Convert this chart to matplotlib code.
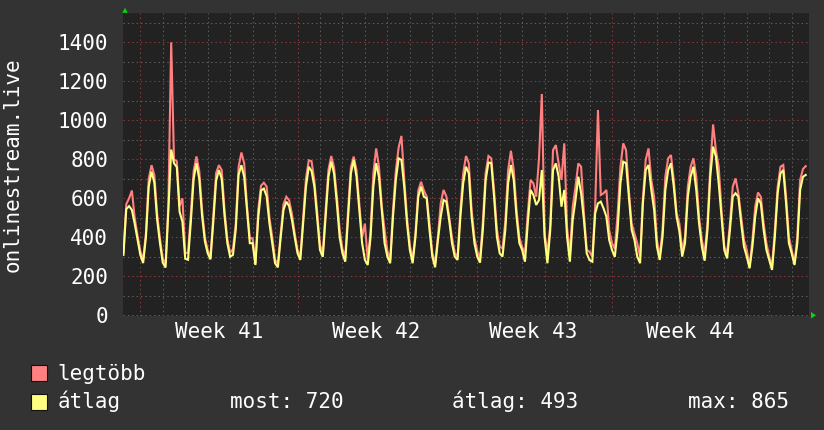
import matplotlib
matplotlib.use('Agg')
import matplotlib.pyplot as plt
from matplotlib.patches import Polygon, Rectangle
from matplotlib.transforms import IdentityTransform
import numpy as np

# ---------------- data (3-hour samples, days relative to Monday of week 41) ----------------
start_day = -0.75
step_days = 0.125

legtobb = [
    320, 570, 600, 640, 500, 410,
    330, 285, 420, 700, 770, 720, 520, 395,
    290, 265, 570, 1400, 800, 790, 560, 600,
    320, 320, 520, 740, 815, 740, 540, 400,
    335, 300, 510, 730, 770, 745, 540, 390,
    320, 340, 470, 760, 835, 780, 560, 395,
    395, 265, 540, 665, 680, 660, 500, 400,
    285, 265, 420, 570, 608, 590, 520, 420,
    335, 301, 500, 700, 795, 790, 690, 530,
    360, 320, 540, 745, 817, 760, 610, 440,
    340, 300, 540, 760, 814, 745, 570, 400,
    470, 284, 430, 728, 856, 762, 560, 440,
    330, 285, 540, 740, 860, 920, 700, 500,
    360, 285, 420, 640, 685, 640, 610, 470,
    320, 267, 405, 575, 643, 610, 505, 400,
    320, 300, 540, 728, 817, 780, 540, 400,
    330, 290, 480, 730, 817, 805, 640, 440,
    350, 344, 480, 745, 844, 745, 540, 400,
    350, 320, 523, 694, 677, 608, 805, 1135,
    420, 318, 460, 848, 873, 779, 694, 882,
    450, 310, 557, 660, 779, 762, 523, 335,
    326, 300, 557, 1053, 617, 626, 643, 437,
    370, 340, 520, 762, 882, 847, 640, 470,
    420, 369, 300, 600, 797, 856, 694, 608,
    386, 301, 440, 711, 805, 822, 694, 523,
    470, 335, 400, 660, 762, 805, 711, 506,
    386, 318, 472, 762, 979, 848, 762, 540,
    352, 318, 472, 660, 702, 626, 506, 386,
    335, 250, 386, 557, 630, 608, 472, 369,
    301, 250, 438, 660, 762, 771, 608, 403,
    335, 267, 403, 694, 750, 765,
]

atlag = [
    310, 545, 560, 540, 470, 390,
    310, 268, 400, 660, 737, 680, 490, 370,
    270, 245, 540, 850, 780, 760, 530, 480,
    290, 285, 480, 700, 780, 700, 510, 380,
    318, 287, 480, 690, 745, 700, 510, 370,
    300, 310, 440, 720, 770, 710, 540, 370,
    370, 258, 500, 640, 650, 610, 470, 370,
    267, 246, 400, 540, 583, 560, 490, 400,
    318, 284, 470, 660, 762, 740, 660, 500,
    335, 300, 505, 710, 788, 728, 575, 400,
    318, 275, 500, 728, 797, 711, 540, 370,
    284, 258, 400, 660, 780, 711, 540, 370,
    301, 267, 506, 694, 805, 797, 660, 470,
    335, 267, 403, 608, 660, 608, 600, 438,
    301, 246, 386, 506, 591, 583, 489, 370,
    301, 284, 506, 677, 762, 728, 506, 370,
    301, 270, 438, 694, 784, 780, 608, 403,
    318, 301, 438, 677, 771, 694, 506, 370,
    335, 275, 472, 643, 617, 566, 591, 745,
    400, 267, 437, 745, 779, 711, 557, 643,
    403, 275, 489, 591, 711, 626, 489, 318,
    283, 275, 523, 574, 583, 548, 506, 386,
    335, 300, 438, 677, 788, 780, 608, 438,
    386, 301, 267, 574, 745, 771, 643, 540,
    352, 284, 403, 643, 745, 780, 660, 506,
    430, 301, 370, 608, 711, 762, 643, 472,
    352, 280, 438, 711, 865, 814, 677, 506,
    335, 292, 438, 608, 626, 608, 472, 352,
    301, 241, 352, 506, 600, 574, 438, 335,
    284, 233, 403, 626, 728, 745, 574, 370,
    318, 258, 370, 643, 710, 720,
]

week_labels = ['Week 41', 'Week 42', 'Week 43', 'Week 44']
week_centers = [3.5, 10.5, 17.5, 24.5]
y_ticks = [0, 200, 400, 600, 800, 1000, 1200, 1400]
y_label = 'onlinestream.live'
legend_names = ['legtöbb', 'átlag']
stats_texts = ['most: 720', 'átlag: 493', 'max: 865']

# ---------------- style ----------------
W, H = 824, 430
FIG_BG = '#333333'
AX_BG = '#222222'
RED = '#ff8080'
YEL = '#ffff80'
MINOR_GRID = '#5e5e5e'
MAJOR_GRID = '#8a3a3a'
FONT = 'DejaVu Sans Mono'
FS = 15

fig = plt.figure(figsize=(W / 100, H / 100), dpi=100, facecolor=FIG_BG)
L, R, T, B = 123.3, 809.0, 13.3, 315.5
ax = fig.add_axes([L / W, 1 - B / H, (R - L) / W, (B - T) / H])
ax.set_facecolor(AX_BG)
for s in ax.spines.values():
    s.set_visible(False)

ax.set_xlim(-0.757, 29.77)
ax.set_ylim(-1, 1549)

# grid
dots = (0, (1.4, 2.8))
for v in range(100, 1600, 100):
    major = (v % 200 == 0)
    ax.axhline(v, color=MAJOR_GRID if major else MINOR_GRID, lw=0.75, ls=dots, zorder=1)
ax.axhline(0, color=MINOR_GRID, lw=0.75, ls=dots, zorder=1)
for d in range(0, 30):
    major = (d % 7 == 0)
    ax.axvline(d, color=MAJOR_GRID if major else MINOR_GRID, lw=0.75, ls=dots, zorder=1)

t = start_day + step_days * np.arange(len(atlag))
ax.plot(t, legtobb, color=RED, lw=1.5, zorder=3, solid_joinstyle='miter')
ax.plot(t, atlag, color=YEL, lw=1.5, zorder=4, solid_joinstyle='miter')

ax.set_yticks(y_ticks)
ax.set_yticklabels([str(v) for v in y_ticks])
ax.set_xticks(week_centers)
ax.set_xticklabels(week_labels)
ax.tick_params(axis='y', length=0, pad=11.0, labelsize=FS, labelcolor='white')
ax.tick_params(axis='x', length=0, pad=5.0, labelsize=FS, labelcolor='white')
for lab in ax.get_xticklabels() + ax.get_yticklabels():
    lab.set_family(FONT)


def fx(x):
    return x / W


def fy(y):
    return 1 - y / H


fig.text(fx(13), fy(164.5), y_label, rotation=90, ha='center', va='center',
         color='white', fontsize=FS, family=FONT)

# arrows
ident = IdentityTransform()
up = Polygon([(122.3, H - 12.8), (127.7, H - 12.8), (125.0, H - 7.8)], closed=True,
             facecolor='#00dd00', edgecolor='none', transform=ident)
right = Polygon([(811.0, H - 312.0), (811.0, H - 318.5), (816.0, H - 315.3)], closed=True,
                facecolor='#00dd00', edgecolor='none', transform=ident)
fig.add_artist(up)
fig.add_artist(right)

# legend
for i, (name, col) in enumerate(zip(legend_names, [RED, YEL])):
    top = 365 + i * 28.5
    rect = Rectangle((fx(31.5), fy(top + 16)), 15.5 / W, 16 / H, transform=fig.transFigure,
                     facecolor=col, edgecolor='#111111', lw=0.8)
    fig.add_artist(rect)
    fig.text(fx(57.8), fy(top + 15), name, ha='left', va='baseline', color='white',
             fontsize=FS, family=FONT)

stat_x = [229.6, 452.0, 688.0]
for sx, st in zip(stat_x, stats_texts):
    fig.text(fx(sx), fy(408.5), st, ha='left', va='baseline', color='white',
             fontsize=FS, family=FONT)

fig.savefig('out.png', dpi=100, facecolor=FIG_BG)
